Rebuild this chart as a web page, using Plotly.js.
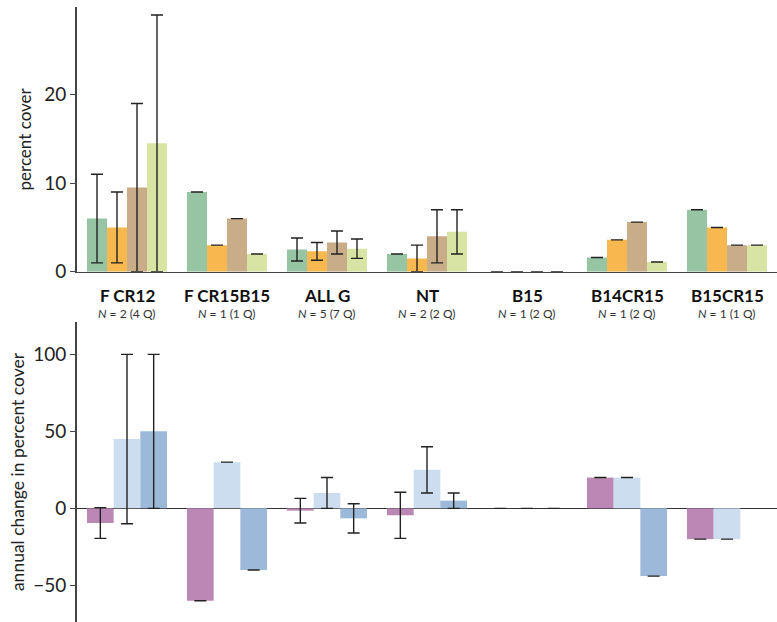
<!DOCTYPE html>
<html>
<head>
<meta charset="utf-8">
<script src="https://cdn.plot.ly/plotly-3.0.1.min.js"></script>
<style>html,body{margin:0;padding:0;background:#fff;}#chart{width:777px;height:622px;}</style>
</head>
<body>
<div id="chart"></div>
<script>
// Categories and sample-size labels
const categories = ["F CR12", "F CR15B15", "ALL G", "NT", "B15", "B14CR15", "B15CR15"];
const nLabels = ["2 (4 Q)", "1 (1 Q)", "5 (7 Q)", "2 (2 Q)", "1 (2 Q)", "1 (2 Q)", "1 (1 Q)"];

// Top panel: percent cover (4 series) with error
const cover1 = [6.0, 9.0, 2.5, 2.0, 0, 1.6, 7.0];
const cover1Err = [5.0, 0, 1.3, 0, 0, 0, 0];
const cover2 = [5.0, 3.0, 2.3, 1.5, 0, 3.6, 5.0];
const cover2Err = [4.0, 0, 1.0, 1.5, 0, 0, 0];
const cover3 = [9.5, 6.0, 3.3, 4.0, 0, 5.6, 3.0];
const cover3Err = [9.5, 0, 1.3, 3.0, 0, 0, 0];
const cover4 = [14.5, 2.0, 2.6, 4.5, 0, 1.1, 3.0];
const cover4Err = [14.5, 0, 1.1, 2.5, 0, 0, 0];

// Bottom panel: annual change in percent cover (3 series) with error
const change1 = [-9.5, -60, -1.5, -4.5, 0, 20, -20];
const change1Err = [10, 0, 8, 15, 0, 0, 0];
const change2 = [45, 30, 10, 25, 0, 20, -20];
const change2Err = [55, 0, 10, 15, 0, 0, 0];
const change3 = [50, -40, -6.5, 5, 0, -44, null];
const change3Err = [50, 0, 9.5, 5, 0, 0, 0];

const errStyle = (arr) => ({type: "data", array: arr, visible: true, color: "#222", thickness: 1.4, width: 6});

const topColors = ["#97c4a3", "#f8b850", "#c9ad88", "#d8e4a3"];
const botColors = ["#bb88b5", "#cbddef", "#9db9da"];

const traces = [
  {type: "bar", x: categories, y: cover1, error_y: errStyle(cover1Err), marker: {color: topColors[0]}, xaxis: "x", yaxis: "y"},
  {type: "bar", x: categories, y: cover2, error_y: errStyle(cover2Err), marker: {color: topColors[1]}, xaxis: "x", yaxis: "y"},
  {type: "bar", x: categories, y: cover3, error_y: errStyle(cover3Err), marker: {color: topColors[2]}, xaxis: "x", yaxis: "y"},
  {type: "bar", x: categories, y: cover4, error_y: errStyle(cover4Err), marker: {color: topColors[3]}, xaxis: "x", yaxis: "y"},
  {type: "bar", x: categories, y: change1, error_y: errStyle(change1Err), marker: {color: botColors[0]}, xaxis: "x2", yaxis: "y2"},
  {type: "bar", x: categories, y: change2, error_y: errStyle(change2Err), marker: {color: botColors[1]}, xaxis: "x2", yaxis: "y2"},
  {type: "bar", x: categories, y: change3, error_y: errStyle(change3Err), marker: {color: botColors[2]}, xaxis: "x2", yaxis: "y2"}
];

const FONT = "Lato, 'Open Sans', sans-serif";

const annotations = [];
categories.forEach((c, i) => {
  annotations.push({xref: "x", yref: "paper", x: c, y: 0.5257, text: "<b>" + c + "</b>", showarrow: false,
    font: {family: FONT, size: 17, color: "#111"}, xanchor: "center", yanchor: "middle"});
  annotations.push({xref: "x", yref: "paper", x: c, y: 0.4952, text: "<i>N</i> = " + nLabels[i], showarrow: false,
    font: {family: FONT, size: 12, color: "#333"}, xanchor: "center", yanchor: "middle"});
});

const layout = {
  width: 777, height: 622,
  margin: {l: 77, r: 0, t: 0, b: 0},
  paper_bgcolor: "#fff", plot_bgcolor: "rgba(0,0,0,0)",
  showlegend: false,
  barmode: "group", bargap: 0.2, bargroupgap: 0,
  font: {family: FONT, color: "#222"},
  xaxis: {domain: [0, 1], anchor: "y", range: [-0.5, 6.5], showticklabels: false, ticks: "",
    showline: true, linecolor: "#444", linewidth: 1.5, showgrid: false, zeroline: false, fixedrange: true},
  yaxis: {domain: [0.5632, 0.9887], anchor: "x", range: [0, 29.9], tickvals: [0, 10, 20],
    ticks: "outside", ticklen: 5, tickwidth: 1.2, tickcolor: "#444", showline: true, linecolor: "#444", linewidth: 2,
    showgrid: false, zeroline: false, tickfont: {family: FONT, size: 19, color: "#222"},
    title: {text: "percent cover", font: {family: FONT, size: 17, color: "#222"}, standoff: 8}},
  xaxis2: {domain: [0, 1], anchor: "y2", range: [-0.5, 6.5], showticklabels: false, ticks: "",
    showline: false, showgrid: false, zeroline: false},
  yaxis2: {domain: [0, 0.4823], anchor: "x2", range: [-73.8, 121], tickvals: [-50, 0, 50, 100],
    ticks: "outside", ticklen: 5, tickwidth: 1.2, tickcolor: "#444", showline: true, linecolor: "#444", linewidth: 2,
    showgrid: false, zeroline: true, zerolinecolor: "#333", zerolinewidth: 1.5,
    tickfont: {family: FONT, size: 19, color: "#222"},
    title: {text: "annual change in percent cover", font: {family: FONT, size: 17.5, color: "#222"}, standoff: 4}},
  annotations: annotations
};

Plotly.newPlot("chart", traces, layout, {displayModeBar: false, staticPlot: true});
</script>
</body>
</html>
